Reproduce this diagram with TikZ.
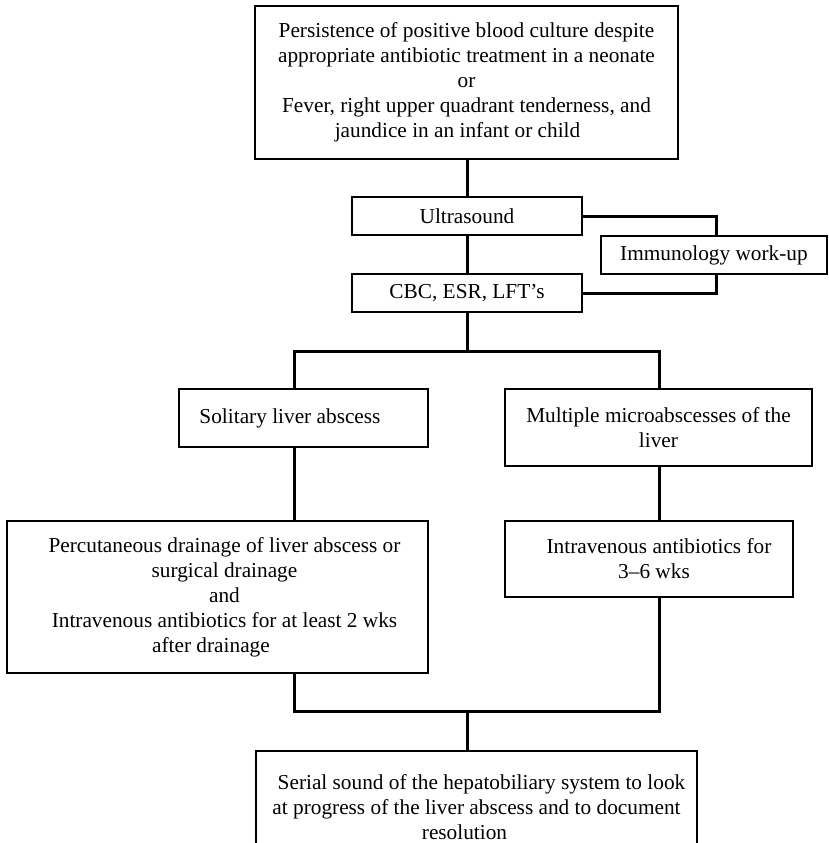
\documentclass[tikz,border=0pt]{standalone}
\usepackage{fontspec}
\setmainfont{Liberation Serif}
\newcommand\chartfont{\fontsize{21.3}{25}\selectfont}
\tikzset{
  box/.style={draw, line width=1.4pt, inner sep=0pt, align=center, font=\chartfont},
  link/.style={line width=3pt, line join=miter}
}
\begin{document}
\begin{tikzpicture}[x=1pt, y=-1pt]
\useasboundingbox (0,0) rectangle (829,843);
\clip (0,0) rectangle (829,843);

% boxes
\node[box, minimum width=423, minimum height=153] (top) at (466.5,82.5)
  {Persistence of positive blood culture despite\\
   appropriate antibiotic treatment in a neonate\\
   or\hspace*{8pt}\\
   Fever, right upper quadrant tenderness, and\\
   jaundice in an infant or child\hspace*{18pt}};
\node[box, minimum width=230, minimum height=38] (us) at (467,216) {Ultrasound};
\node[box, minimum width=230, minimum height=38] (cbc) at (467,293) {CBC, ESR, LFT’s};
\node[box, minimum width=226, minimum height=38] (imm) at (714,255) {Immunology work-up};
\node[box, minimum width=249, minimum height=58] (sol) at (303.5,418)
  {Solitary liver abscess\hspace*{27pt}};
\node[box, minimum width=307, minimum height=77] (mult) at (658.5,427.5)
  {Multiple microabscesses of the\\liver};
\node[box, minimum width=421, minimum height=152] (perc) at (217.5,597)
  {\hspace*{14pt}Percutaneous drainage of liver abscess or\\
   \hspace*{14pt}surgical drainage\\
   \hspace*{14pt}and\\
   \hspace*{14pt}Intravenous antibiotics for at least 2 wks\\
   after drainage\hspace*{13pt}};
\node[box, minimum width=288, minimum height=76] (iv) at (649,559)
  {\hspace*{20pt}Intravenous antibiotics for\\\hspace*{10pt}3–6 wks};
\node[box, minimum width=441, minimum height=112] (final) at (476.5,807)
  {\hspace*{10pt}Serial sound of the hepatobiliary system to look\\
   at progress of the liver abscess and to document\\
   resolution\hspace*{24pt}};

% junction points of the branch and merge bars
\coordinate (split) at (467,351);
\coordinate (jl) at (294,351);
\coordinate (jr) at (659,351);
\coordinate (merge) at (467,711);
\coordinate (ml) at (294,711);
\coordinate (mr) at (659,711);

% connectors
\draw[link] (top.south -| us.north) -- (us.north);
\draw[link] (us.south) -- (cbc.north);
\draw[link] (us.east) -| ([xshift=2pt]imm.north);
\draw[link] (cbc.east) -| ([xshift=2pt]imm.south);
\draw[link] (cbc.south) -- (split);
\draw[link] (jl |- sol.north) -- (jl) -- (jr) -- (jr |- mult.north);
\draw[link] (jl |- sol.south) -- (jl |- perc.north);
\draw[link] (jr |- mult.south) -- (jr |- iv.north);
\draw[link] (ml |- perc.south) -- (ml) -- (mr) -- (mr |- iv.south);
\draw[link] (merge) -- (merge |- final.north);
\end{tikzpicture}
\end{document}
